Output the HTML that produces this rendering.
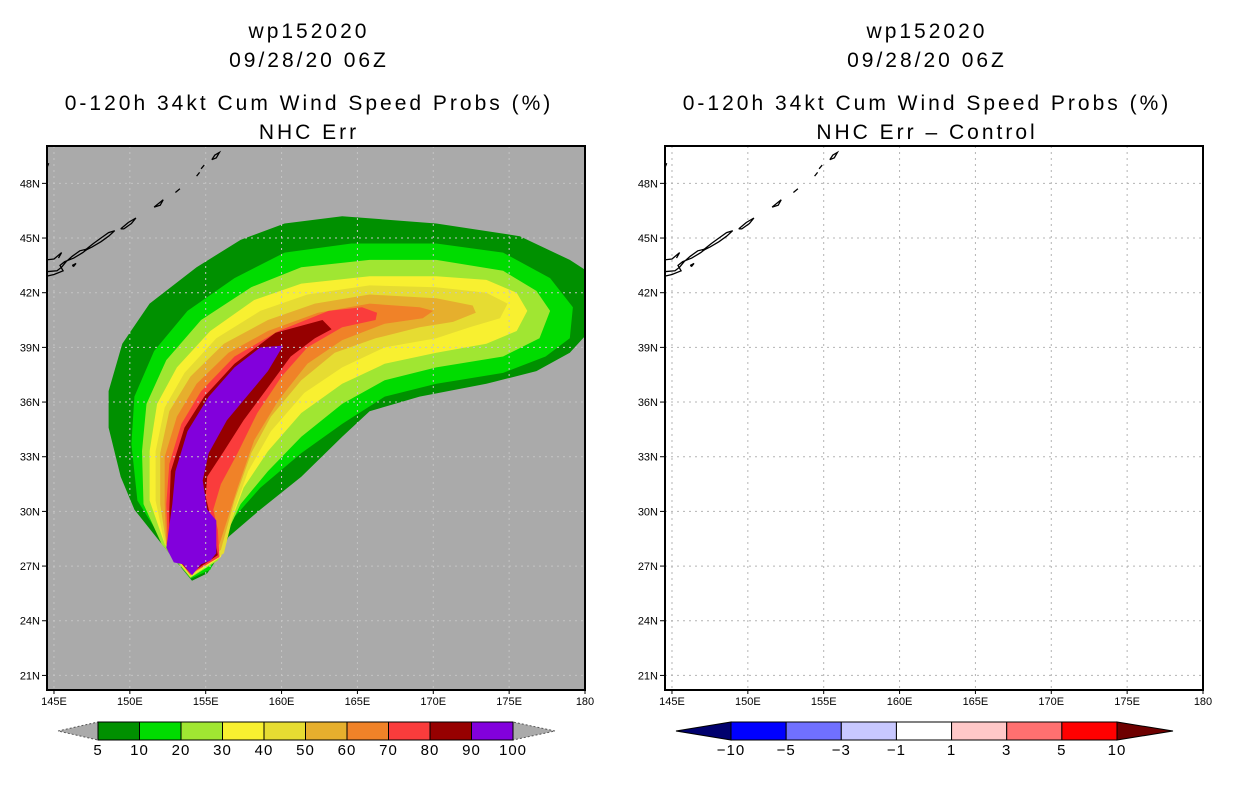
<!DOCTYPE html>
<html><head><meta charset="utf-8">
<style>
html,body{margin:0;padding:0;background:#fff;}
svg{display:block;}
text{font-family:"Liberation Sans",sans-serif;fill:#000;}
.t{font-size:21px;letter-spacing:3px;text-anchor:middle;}
.tk{font-size:11px;}
.cb{font-size:15px;text-anchor:middle;letter-spacing:1px;}
</style></head>
<body>
<svg id="chart" width="1236" height="800" viewBox="0 0 1236 800" xmlns="http://www.w3.org/2000/svg">
  <defs>
    <clipPath id="clipL"><rect x="47" y="146" width="538" height="544"/></clipPath>
  </defs>
  <g>
    <text class="t" x="309" y="38">wp152020</text>
    <text class="t" x="309" y="67">09/28/20 06Z</text>
    <text class="t" x="309" y="110">0-120h 34kt Cum Wind Speed Probs (%)</text>
    <text class="t" x="309" y="139">NHC Err</text>
  </g>
  <g>
    <text class="t" x="927" y="38">wp152020</text>
    <text class="t" x="927" y="67">09/28/20 06Z</text>
    <text class="t" x="927" y="110">0-120h 34kt Cum Wind Speed Probs (%)</text>
    <text class="t" x="927" y="139">NHC Err – Control</text>
  </g>
  <rect x="47" y="146" width="538" height="544" fill="#aaaaaa"/>
  <g id="contours" clip-path="url(#clipL)"></g>
  <rect x="665" y="146" width="538" height="544" fill="#ffffff"/>
  <g id="gridL"></g>
  <g id="gridR"></g>
  <g id="coastL"></g>
  <g id="coastR"></g>
  <rect x="47" y="146" width="538" height="544" fill="none" stroke="#000" stroke-width="2"/>
  <rect x="665" y="146" width="538" height="544" fill="none" stroke="#000" stroke-width="2"/>
  <g id="axes"></g>
  <g id="cbarL"></g>
  <g id="cbarR"></g>
</svg>
<script>
const lonTicks = [145,150,155,160,165,170,175,180];
const lonLabels = ["145E","150E","155E","160E","165E","170E","175E","180"];
const latTicks = [21,24,27,30,33,36,39,42,45,48];
const latLabels = ["21N","24N","27N","30N","33N","36N","39N","42N","45N","48N"];
const probLevels = [5,10,20,30,40,50,60,70,80,90,100];
const probColors = ["#009000","#00dc00","#a0e632","#f8f030","#e6dc32","#e6af2d","#f08228","#fa3c3c","#960000","#8200dc"];
const diffLevels = [-10,-5,-3,-1,1,3,5,10];
const diffColors = ["#0000ff","#7070ff","#c8c8ff","#ffffff","#ffc8c8","#ff7070","#ff0000"];
const diffEnds = ["#00006e","#6e0000"];

const c5 = [[154.1,26.2],[152.3,28.0],[150.3,30.1],[149.4,31.9],[148.6,34.6],[148.6,36.6],[149.5,39.2],[151.3,41.4],[154.4,43.4],[157.3,44.9],[160.2,45.8],[164.0,46.2],[170.2,45.8],[175.7,45.1],[179.0,43.8],[180.3,43.1],[180.3,39.9],[179.0,38.7],[176.8,37.7],[173.5,37.0],[169.1,36.3],[165.8,35.5],[164.0,34.1],[161.3,31.9],[158.6,30.1],[156.5,28.6],[156.0,27.7],[155.1,26.6]];
const c10 = [[154.0,26.3],[152.3,28.2],[150.5,30.6],[150.1,33.7],[150.3,36.3],[151.6,38.8],[153.8,41.0],[156.9,42.8],[160.2,44.2],[164.6,44.7],[170.2,44.7],[174.6,44.2],[177.7,42.8],[179.2,41.2],[179.0,39.5],[177.4,38.5],[174.6,37.6],[170.2,37.0],[166.8,36.3],[164.0,34.8],[161.3,33.2],[158.6,31.3],[156.9,29.7],[156.0,28.2],[155.3,26.8]];
const c20 = [[154.0,26.35],[152.1,28.2],[150.9,30.4],[150.8,33.3],[151.1,35.9],[152.4,38.3],[154.7,40.5],[158.0,42.3],[161.3,43.4],[165.8,43.8],[170.2,43.8],[174.6,43.2],[176.8,42.1],[177.7,41.0],[177.0,39.5],[174.6,38.5],[170.2,37.9],[166.8,37.2],[164.0,35.9],[161.3,34.1],[159.1,32.2],[157.3,30.4],[156.5,29.0],[155.8,27.3]];
const c30 = [[154.0,26.4],[152.3,28.2],[151.3,30.6],[151.3,33.3],[151.8,35.9],[153.1,37.9],[155.3,39.9],[158.2,41.6],[161.3,42.5],[165.8,42.9],[170.2,42.9],[173.5,42.7],[175.5,42.0],[176.2,41.0],[175.5,39.9],[173.5,39.2],[170.2,38.7],[166.8,38.1],[164.0,37.0],[161.3,35.4],[159.1,33.3],[157.5,31.3],[156.7,29.5],[156.0,27.5]];
const c40 = [[154.0,26.45],[152.3,28.2],[151.7,30.6],[151.7,33.3],[152.3,35.7],[153.6,37.6],[155.7,39.5],[158.6,41.0],[161.7,41.9],[165.8,42.4],[170.2,42.3],[173.5,42.0],[174.9,41.4],[174.4,40.6],[172.4,40.1],[170.2,39.5],[166.8,39.0],[164.0,37.9],[161.5,36.5],[159.3,34.4],[157.8,32.2],[156.9,30.1],[156.2,27.7]];
const c50 = [[154.0,26.5],[152.4,28.2],[152.0,30.4],[152.0,33.2],[152.6,35.5],[154.0,37.4],[156.2,39.2],[159.1,40.5],[162.2,41.4],[165.8,41.9],[170.2,41.7],[172.6,41.3],[172.8,40.9],[171.3,40.4],[169.1,40.1],[166.2,39.5],[163.5,38.7],[161.3,37.2],[159.3,35.2],[158.0,33.2],[156.9,30.6],[156.0,27.9]];
const c60 = [[154.0,26.5],[152.4,28.2],[152.3,30.4],[152.3,33.0],[153.1,35.2],[154.4,37.0],[156.5,38.7],[159.1,39.9],[162.4,40.9],[165.8,41.4],[169.1,41.2],[170.0,41.0],[169.3,40.6],[166.8,40.3],[164.0,39.4],[161.7,38.1],[159.8,36.1],[158.2,33.9],[157.1,31.3],[155.9,28.2]];
const c70 = [[154.0,26.55],[152.5,28.0],[152.4,30.4],[152.6,32.6],[153.4,34.8],[154.7,36.6],[156.9,38.5],[159.8,39.9],[163.1,41.0],[165.3,41.2],[166.3,40.9],[166.2,40.5],[164.0,40.1],[161.7,39.0],[160.0,37.4],[158.4,35.4],[157.1,33.2],[156.0,31.5],[155.5,30.1],[155.8,29.0],[155.9,27.5]];
const c80 = [[154.0,26.6],[152.6,27.9],[152.6,30.1],[152.7,32.2],[153.6,34.6],[154.9,36.3],[156.9,38.1],[159.6,39.8],[162.7,40.5],[163.3,40.0],[162.2,39.5],[160.6,38.5],[159.1,36.8],[157.5,35.0],[156.2,33.3],[155.1,31.9],[155.0,30.8],[155.4,29.4],[155.8,27.6]];
const c90 = [[152.4,28.0],[152.9,27.2],[153.5,27.1],[154.1,26.5],[154.7,27.1],[155.3,27.3],[155.7,27.7],[155.7,29.5],[155.1,30.1],[154.8,31.7],[155.2,33.2],[156.4,35.0],[157.8,36.4],[159.1,37.7],[160.1,39.1],[158.6,39.0],[156.9,37.9],[155.2,36.3],[153.8,34.4],[153.0,32.2],[152.8,30.4]];
const contours = [c5,c10,c20,c30,c40,c50,c60,c70,c80,c90];

const coast = [
 [[144.5,42.9],[145.0,43.0],[145.6,43.2],[145.4,43.5],[145.7,43.7],[146.3,43.9],[146.9,44.2],[147.2,44.4],[146.7,44.3],[146.2,44.0],[145.8,43.7],[145.5,43.4],[145.2,43.2],[144.5,43.15]],
 [[144.5,43.8],[145.0,43.85],[145.5,44.2],[145.3,43.9]],
 [[146.2,43.5],[146.45,43.6],[146.3,43.45],[146.2,43.5]],
 [[147.0,44.3],[147.6,44.7],[148.1,45.0],[148.6,45.3],[149.0,45.4],[148.6,45.1],[148.1,44.8],[147.5,44.5],[147.0,44.3]],
 [[149.4,45.5],[149.9,45.85],[150.4,46.1],[150.1,45.8],[149.6,45.5],[149.4,45.5]],
 [[151.6,46.7],[152.2,47.1],[152.0,46.8],[151.6,46.7]],
 [[153.0,47.5],[153.3,47.7]],
 [[154.4,48.4],[154.6,48.6]],
 [[154.7,48.8],[154.9,49.0]],
 [[155.4,49.3],[155.6,49.55],[155.9,49.7],[155.7,49.4],[155.4,49.3]],
 [[144.55,48.9],[144.65,49.1]]
];

const L = {x0:47, w:538, y0:146, h:544};
const lonMin = 144.54, lonMax = 180.0, latMin = 20.2, latMax = 50.05;
function px(lon, off){ return off + L.x0 + (lon - lonMin)/(lonMax - lonMin)*L.w; }
function py(lat){ return L.y0 + (latMax - lat)/(latMax - latMin)*L.h; }
const NS = "http://www.w3.org/2000/svg";
function mk(tag, attrs, parent){ const e=document.createElementNS(NS,tag); for(const k in attrs) e.setAttribute(k,attrs[k]); parent.appendChild(e); return e; }

const gC = document.getElementById('contours');
contours.forEach((poly,i)=>{
  const pts = poly.map(p=>px(p[0],0).toFixed(1)+','+py(p[1]).toFixed(1)).join(' ');
  const e = mk('polygon',{points:pts, fill:probColors[i]}, gC);
  
  
});

function grid(id, off, color){
  const g = document.getElementById(id);
  lonTicks.forEach(lon=>{
    if(lon<=lonMin||lon>=lonMax) return;
    const e = mk('line',{x1:px(lon,off),x2:px(lon,off),y1:L.y0,y2:L.y0+L.h,stroke:color,'stroke-width':1,'stroke-dasharray':'2,4'},g);
    
    
  });
  latTicks.forEach(lat=>{
    const e = mk('line',{x1:L.x0+off,x2:L.x0+off+L.w,y1:py(lat),y2:py(lat),stroke:color,'stroke-width':1,'stroke-dasharray':'2,4'},g);
    
    
  });
}
grid('gridL',0,'#c4c4c4');
grid('gridR',618,'#b4b4b4');

function drawCoast(id, off){
  const g = document.getElementById(id);
  coast.forEach(seg=>{
    const e = mk('polyline',{points:seg.map(p=>px(p[0],off).toFixed(1)+','+py(p[1]).toFixed(1)).join(' '),fill:'none',stroke:'#000','stroke-width':1.3},g);
    
    
  });
}
drawCoast('coastL',0);
drawCoast('coastR',618);

const gA = document.getElementById('axes');
[0,618].forEach(off=>{
  lonTicks.forEach((lon,i)=>{
    const x = px(lon,off);
    mk('line',{x1:x,x2:x,y1:L.y0+L.h,y2:L.y0+L.h+4,stroke:'#000'},gA);
    const t = mk('text',{x:x,y:705,'text-anchor':'middle',class:'tk'},gA);
    t.textContent = lonLabels[i];
    
    
  });
  latTicks.forEach((lat,i)=>{
    const y = py(lat);
    mk('line',{x1:L.x0+off-5,x2:L.x0+off,y1:y,y2:y,stroke:'#000'},gA);
    const t = mk('text',{x:L.x0+off-7,y:y+4,'text-anchor':'end',class:'tk'},gA);
    t.textContent = latLabels[i];
    
    
  });
});

(function(){
  const g = document.getElementById('cbarL');
  const x0=98, x1=513, y0=722, y1=740, n=probColors.length, w=(x1-x0)/n;
  let e = mk('polygon',{points:`58,731 ${x0},${y0} ${x0},${y1}`,fill:'#aaaaaa',stroke:'#555','stroke-dasharray':'2,2','stroke-width':1},g);
   
  e = mk('polygon',{points:`555,731 ${x1},${y0} ${x1},${y1}`,fill:'#aaaaaa',stroke:'#555','stroke-dasharray':'2,2','stroke-width':1},g);
   
  probColors.forEach((c,i)=>{
    const r = mk('rect',{x:x0+i*w,y:y0,width:w,height:y1-y0,fill:c,stroke:'#000','stroke-width':1},g);
    
    
  });
  probLevels.forEach((v,i)=>{
    const t = mk('text',{x:x0+i*w,y:755,class:'cb'},g);
    t.textContent = v;
    
    
  });
})();

(function(){
  const g = document.getElementById('cbarR');
  const x0=731, x1=1117, y0=722, y1=740, n=diffColors.length, w=(x1-x0)/n;
  let e = mk('polygon',{points:`676,731 ${x0},${y0} ${x0},${y1}`,fill:diffEnds[0],stroke:'#000','stroke-width':1},g);
   
  e = mk('polygon',{points:`1173,731 ${x1},${y0} ${x1},${y1}`,fill:diffEnds[1],stroke:'#000','stroke-width':1},g);
   
  diffColors.forEach((c,i)=>{
    const r = mk('rect',{x:x0+i*w,y:y0,width:w,height:y1-y0,fill:c,stroke:'#000','stroke-width':1},g);
    
    
  });
  diffLevels.forEach((v,i)=>{
    const t = mk('text',{x:x0+i*w,y:755,class:'cb'},g);
    t.textContent = v<0 ? '−'+Math.abs(v) : String(v);
    
    
  });
})();
</script>
</body></html>
